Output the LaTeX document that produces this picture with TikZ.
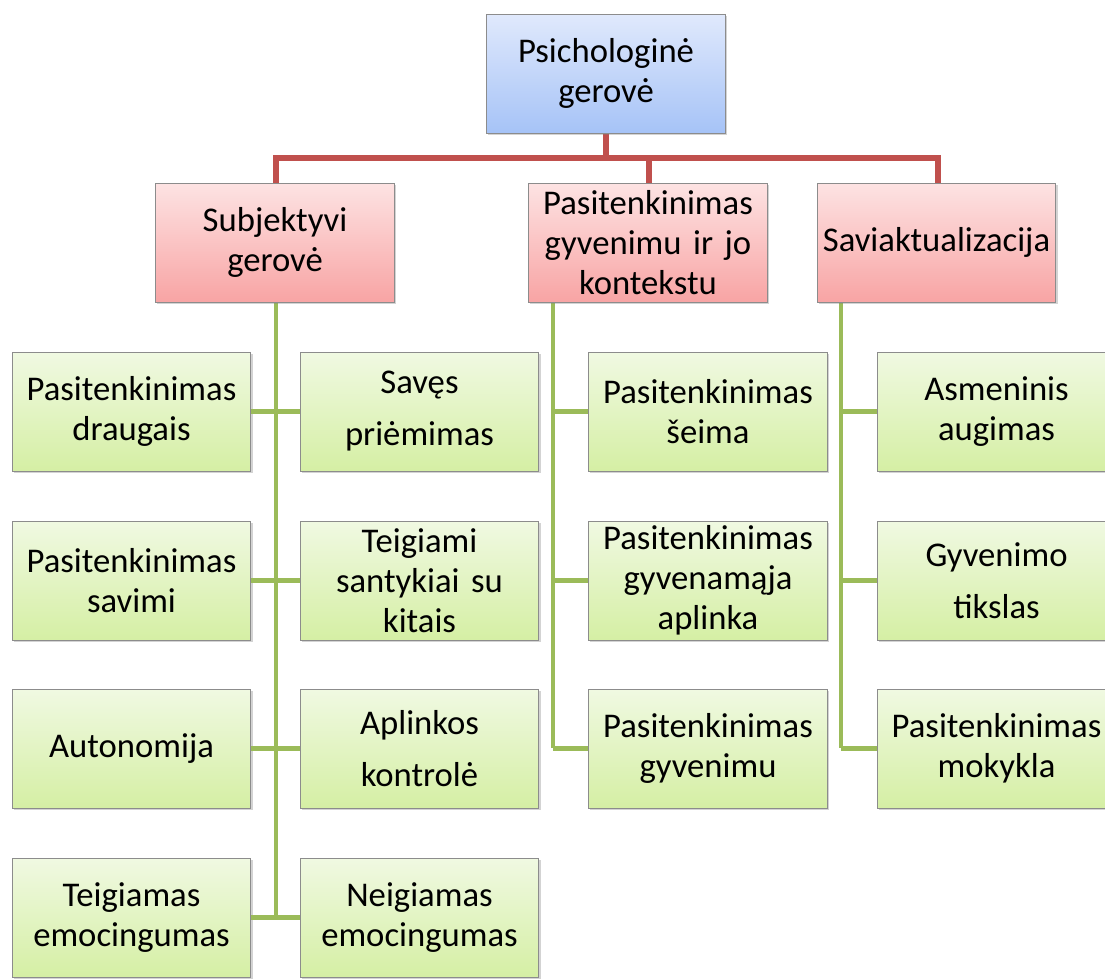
\documentclass[tikz,border=0pt]{standalone}
\usepackage{fontspec}
\setmainfont{Carlito}
\usetikzlibrary{shadows}
\definecolor{lnred}{HTML}{C0504D}
\definecolor{lngreen}{HTML}{9BBB59}
\definecolor{bltop}{HTML}{E0E9FC}
\definecolor{blbot}{HTML}{A6C3F7}
\definecolor{rdtop}{HTML}{FDE3E3}
\definecolor{rdbot}{HTML}{F8A4A4}
\definecolor{grtop}{HTML}{F0F9E2}
\definecolor{grbot}{HTML}{D5EFA4}
\definecolor{bord}{HTML}{8C8C8C}
\begin{document}
\begin{tikzpicture}[x=0.75pt,y=-0.75pt,
  box/.style={draw=bord, line width=0.6pt, minimum width=179pt, minimum height=89.25pt,
    text width=179pt, align=center, inner sep=0pt,
    font=\fontsize{26}{30}\selectfont,
    drop shadow={shadow xshift=1.3pt, shadow yshift=-1.3pt, opacity=0.35}},
  bluebox/.style={box, top color=bltop, bottom color=blbot},
  redbox/.style={box, top color=rdtop, bottom color=rdbot},
  greenbox/.style={box, top color=grtop, bottom color=grbot},
  redline/.style={draw=lnred, line width=4.5pt},
  greenline/.style={draw=lngreen, line width=3.6pt}
]
\useasboundingbox (0,0) rectangle (1105,978);
\clip (0,0) rectangle (1105,978);

% coordinates of connector junctions
\coordinate (busL) at (276,158);
\coordinate (busR) at (938,158);
\coordinate (busM) at (649,158);
\coordinate (trA) at (276,302);
\coordinate (trAend) at (276,917);
\coordinate (trB) at (553,302);
\coordinate (trBend) at (553,748);
\coordinate (trC) at (841,302);
\coordinate (trCend) at (841,748);

% connectors
\draw[redline] (606,133) -- (606,158);
\draw[redline, line cap=rect] (busL) -- (busR);
\draw[redline] (busL) -- (276,183);
\draw[redline] (busM) -- (649,183);
\draw[redline] (busR) -- (938,183);

\draw[greenline] (trA) -- (trAend);
\draw[greenline] (trB) -- (trBend);
\draw[greenline] (trC) -- (trCend);

% nodes
\node[bluebox] (top) at (606,73.5) {Psichologinė\\gerovė};

\node[redbox] (subj) at (275,242.5) {Subjektyvi\\gerovė};
\node[redbox] (mid) at (648,242.5) {Pasitenkinimas\\gyvenimu ir jo\\kontekstu};
\node[redbox] (right) at (936.5,242.5) {Saviaktualizacija};

\node[greenbox] (a1) at (131.5,411.5) {Pasitenkinimas\\draugais};
\node[greenbox] (b1) at (419.5,411.5) {Savęs\\[9pt]priėmimas};
\node[greenbox] (a2) at (131.5,580.5) {Pasitenkinimas\\savimi};
\node[greenbox] (b2) at (419.5,580.5) {Teigiami\\santykiai su\\kitais};
\node[greenbox] (a3) at (131.5,748.5) {Autonomija};
\node[greenbox] (b3) at (419.5,748.5) {Aplinkos\\[9pt]kontrolė};
\node[greenbox] (a4) at (131.5,917.5) {Teigiamas\\emocingumas};
\node[greenbox] (b4) at (419.5,917.5) {Neigiamas\\emocingumas};

\node[greenbox] (m1) at (708,411.5) {Pasitenkinimas\\šeima};
\node[greenbox] (m2) at (708,580.5) {Pasitenkinimas\\gyvenamąja\\aplinka};
\node[greenbox] (m3) at (708,748.5) {Pasitenkinimas\\gyvenimu};

\node[greenbox] (r1) at (996.5,411.5) {Asmeninis\\augimas};
\node[greenbox] (r2) at (996.5,580.5) {Gyvenimo\\[9pt]tikslas};
\node[greenbox] (r3) at (996.5,748.5) {Pasitenkinimas\\mokykla};

% branches
\draw[greenline] (a1.east) -- (b1.west);
\draw[greenline] (a2.east) -- (b2.west);
\draw[greenline] (a3.east) -- (b3.west);
\draw[greenline] (a4.east) -- (b4.west);
\draw[greenline] (trB |- m1.west) -- (m1.west);
\draw[greenline] (trB |- m2.west) -- (m2.west);
\draw[greenline] (trB |- m3.west) -- (m3.west);
\draw[greenline] (trC |- r1.west) -- (r1.west);
\draw[greenline] (trC |- r2.west) -- (r2.west);
\draw[greenline] (trC |- r3.west) -- (r3.west);
\end{tikzpicture}
\end{document}
